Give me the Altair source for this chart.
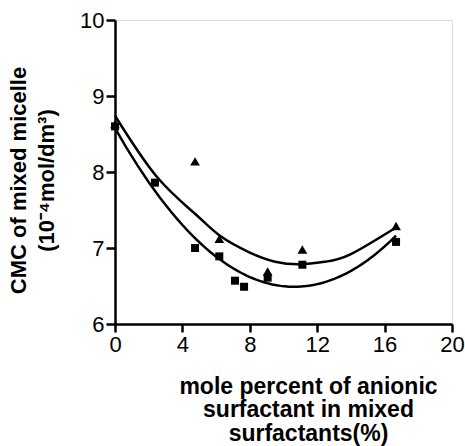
import altair as alt
import pandas as pd

# Squares series
x_sq = [0, 2.37, 4.75, 6.19, 7.12, 7.66, 9.06, 11.12, 16.68]
y_sq = [8.60, 7.86, 7.00, 6.89, 6.57, 6.49, 6.61, 6.78, 7.08]
# Triangles series
x_tri = [0, 4.75, 6.19, 9.06, 11.12, 16.68]
y_tri = [8.63, 8.14, 7.12, 6.69, 6.98, 7.29]

# Upper fitted curve
x_fit_tri = [0, 2.47, 4.75, 6.23, 8.0, 9.5, 11.0, 12.5, 14.0, 16.68]
y_fit_tri = [8.74, 7.94, 7.45, 7.16, 6.94, 6.82, 6.785, 6.82, 6.92, 7.27]

x_ticks = [0, 4, 8, 12, 16, 20]
y_ticks = [6, 7, 8, 9, 10]

df = pd.concat([
    pd.DataFrame({"x": x_sq, "y": y_sq, "s": "square"}),
    pd.DataFrame({"x": x_tri, "y": y_tri, "s": "triangle"}),
])
df_fit = pd.DataFrame({"x": x_fit_tri, "y": y_fit_tri})

FONT = "Liberation Sans"

xs = alt.Scale(domain=[0, 20], nice=False, zero=False)
ys = alt.Scale(domain=[6, 10], nice=False, zero=False)

x_axis = alt.Axis(
    values=x_ticks, format="d",
    title=["mole percent of anionic", "surfactant in mixed", "surfactants(%)"],
    grid=False, domainColor="black", domainWidth=2.5, tickColor="black", tickWidth=2.5,
    tickSize=8, labelPadding=2, labelFontSize=22, labelFont=FONT, labelColor="black",
    titleFont=FONT, titleFontSize=23, titleFontWeight="bold", titleColor="black",
    titleX=193, titleY=69, titleAlign="center", titleBaseline="alphabetic",
    titleLineHeight=23.5, labelFlush=False,
)
y_axis = alt.Axis(
    values=y_ticks, format="d",
    title=["CMC of mixed micelle", "(10⁻⁴mol/dm³)"],
    grid=False, domainColor="black", domainWidth=2.5, tickColor="black", tickWidth=2.5,
    tickSize=9, labelPadding=2, labelFontSize=22, labelFont=FONT, labelColor="black",
    titleFont=FONT, titleFontSize=22, titleFontWeight="bold", titleColor="black",
    titleAngle=-90, titleX=-107, titleY=160, titleAlign="center", titleBaseline="top",
    titleLineHeight=28, labelFlush=False,
)

base = alt.Chart(df)

pts = base.mark_point(filled=True, color="black", opacity=1).encode(
    x=alt.X("x:Q", scale=xs, axis=x_axis),
    y=alt.Y("y:Q", scale=ys, axis=y_axis),
    shape=alt.Shape("s:N", scale=alt.Scale(domain=["square", "triangle"],
                                            range=["square", "triangle-up"]), legend=None),
    size=alt.Size("s:N", scale=alt.Scale(domain=["square", "triangle"],
                                          range=[64, 95]), legend=None),
)

lower = base.transform_filter(alt.datum.s == "square").transform_regression(
    "x", "y", method="poly", order=2
).mark_line(color="black", strokeWidth=2.5).encode(
    x=alt.X("x:Q", scale=xs),
    y=alt.Y("y:Q", scale=ys),
)

upper = alt.Chart(df_fit).mark_line(color="black", strokeWidth=2.5,
                                    interpolate="natural").encode(
    x=alt.X("x:Q", scale=xs),
    y=alt.Y("y:Q", scale=ys),
)

chart = alt.layer(lower, upper, pts).properties(
    width=337, height=304,
    autosize=alt.AutoSizeParams(type="none"),
    padding={"left": 115, "top": 20, "right": 13, "bottom": 122},
).configure_view(stroke=None).configure(background="white")

chart.save("out.html", embed_options={"renderer": "svg", "actions": False})
